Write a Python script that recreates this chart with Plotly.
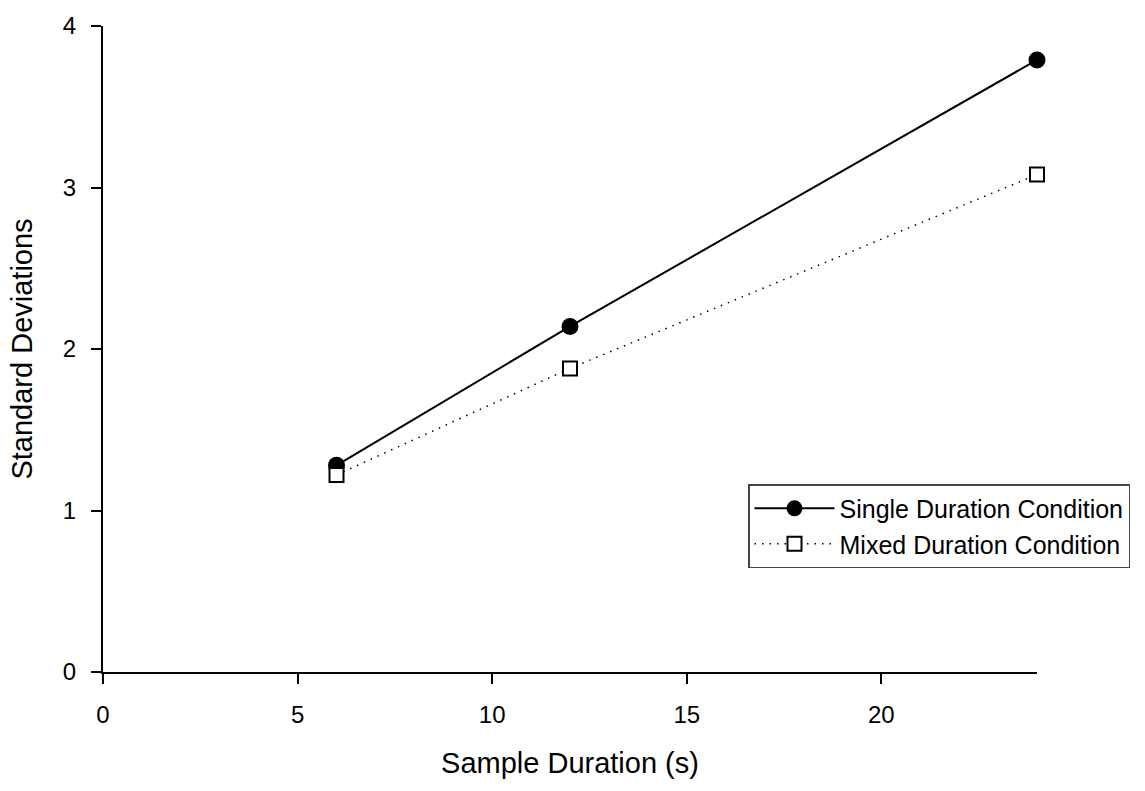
import plotly.graph_objects as go

# Sample durations (s) and standard deviations per condition
durations = [6, 12, 24]
single_sd = [1.28, 2.14, 3.79]
mixed_sd = [1.22, 1.88, 3.08]

x_ticks = [0, 5, 10, 15, 20]
y_ticks = [0, 1, 2, 3, 4]

FONT = "Liberation Sans, Arial, sans-serif"

fig = go.Figure()
fig.add_trace(go.Scatter(
    x=durations, y=single_sd, mode="lines+markers",
    name="Single Duration Condition",
    line=dict(color="black", width=2),
    marker=dict(symbol="circle", size=17, color="black"),
    cliponaxis=False,
))
fig.add_trace(go.Scatter(
    x=durations, y=mixed_sd, mode="lines+markers",
    name="Mixed Duration Condition",
    line=dict(color="black", width=1.5, dash="1.5px,6px"),
    marker=dict(symbol="square", size=14, color="white",
                line=dict(color="black", width=2)),
    cliponaxis=False,
))

axis_common = dict(
    showgrid=False, zeroline=False, showline=True, linecolor="black",
    linewidth=2, ticks="outside", ticklen=10, tickwidth=2,
    tickcolor="black", tickfont=dict(family=FONT, size=24, color="black"),
)

fig.update_layout(
    width=1145, height=791,
    margin=dict(l=103, r=108, t=19, b=119),
    paper_bgcolor="white", plot_bgcolor="white",
    font=dict(family=FONT, color="black"),
    xaxis=dict(range=[0, 24], tickvals=x_ticks, ticklabelstandoff=10,
               title=dict(text="Sample Duration (s)",
                          font=dict(family=FONT, size=29), standoff=26),
               **axis_common),
    yaxis=dict(range=[0, 4], tickvals=y_ticks, ticklabelstandoff=10,
               title=dict(text="Standard Deviations",
                          font=dict(family=FONT, size=29), standoff=22),
               **axis_common),
    legend=dict(x=(1130 - 103) / 934, y=(672 - 482) / 653,
                xanchor="right", yanchor="top",
                bgcolor="white", bordercolor="#444", borderwidth=1.5,
                font=dict(family=FONT, size=25), itemwidth=80,
                tracegroupgap=0),
    showlegend=True,
)

fig.write_html("out.html")
